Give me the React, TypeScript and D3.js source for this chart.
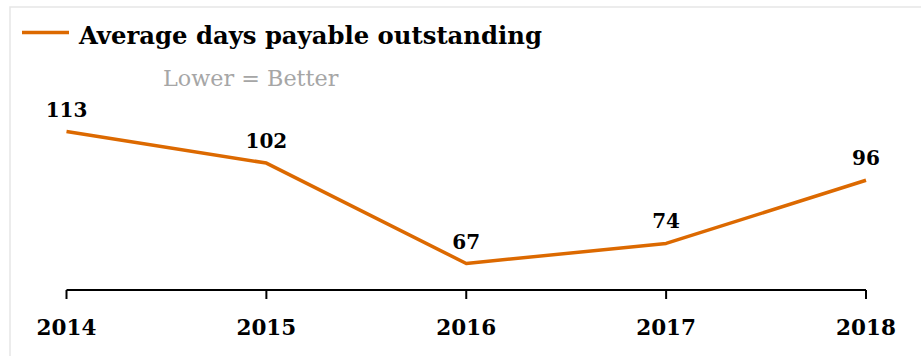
import React from "react";
import * as d3 from "d3";

const years = ["2014", "2015", "2016", "2017", "2018"];
const dpo = [113, 102, 67, 74, 96];
const seriesName = "Average days payable outstanding";
const subtitle = "Lower = Better";

const W = 921;
const H = 356;
const ORANGE = "#dc6900";
const SERIF = "'DejaVu Serif', Georgia, serif";

export default function App() {
  const x = d3.scalePoint<string>().domain(years).range([66.5, 866]);
  const y = d3.scaleLinear().domain([67, 113]).range([263.5, 131.5]);
  const axisY = 290;
  const line = d3
    .line<number>()
    .x((_, i) => x(years[i]) as number)
    .y((d) => y(d));

  return (
    <svg
      width={W}
      height={H}
      style={{ position: "absolute", left: 0, top: 0, background: "#fff" }}
    >
      <rect x={10} y={7} width={W + 20} height={H + 20} fill="#fff" stroke="#e6e6e6" strokeWidth={1.5} />
      {/* legend */}
      <line x1={22} x2={69} y1={32.5} y2={32.5} stroke={ORANGE} strokeWidth={3.5} />
      <text x={79} y={44} fontFamily={SERIF} fontWeight="bold" fontSize={24.3} fill="#000">
        {seriesName}
      </text>
      <text x={163} y={86} fontFamily={SERIF} fontSize={22.3} fill="#a6a6a6">
        {subtitle}
      </text>
      {/* axis */}
      <line x1={x(years[0])} x2={x(years[years.length - 1])} y1={axisY} y2={axisY} stroke="#000" strokeWidth={2} />
      {years.map((yr) => (
        <g key={yr}>
          <line x1={x(yr)} x2={x(yr)} y1={axisY} y2={axisY + 9} stroke="#000" strokeWidth={2} />
          <text
            x={x(yr)}
            y={335}
            textAnchor="middle"
            fontFamily={SERIF}
            fontWeight="bold"
            fontSize={21.5}
            fill="#000"
          >
            {yr}
          </text>
        </g>
      ))}
      {/* line */}
      <path d={line(dpo) || ""} fill="none" stroke={ORANGE} strokeWidth={3.5} strokeLinejoin="round" />
      {dpo.map((v, i) => (
        <text
          key={i}
          x={x(years[i])}
          y={y(v) - 15}
          textAnchor="middle"
          fontFamily={SERIF}
          fontWeight="bold"
          fontSize={20}
          fill="#000"
        >
          {v}
        </text>
      ))}
    </svg>
  );
}
